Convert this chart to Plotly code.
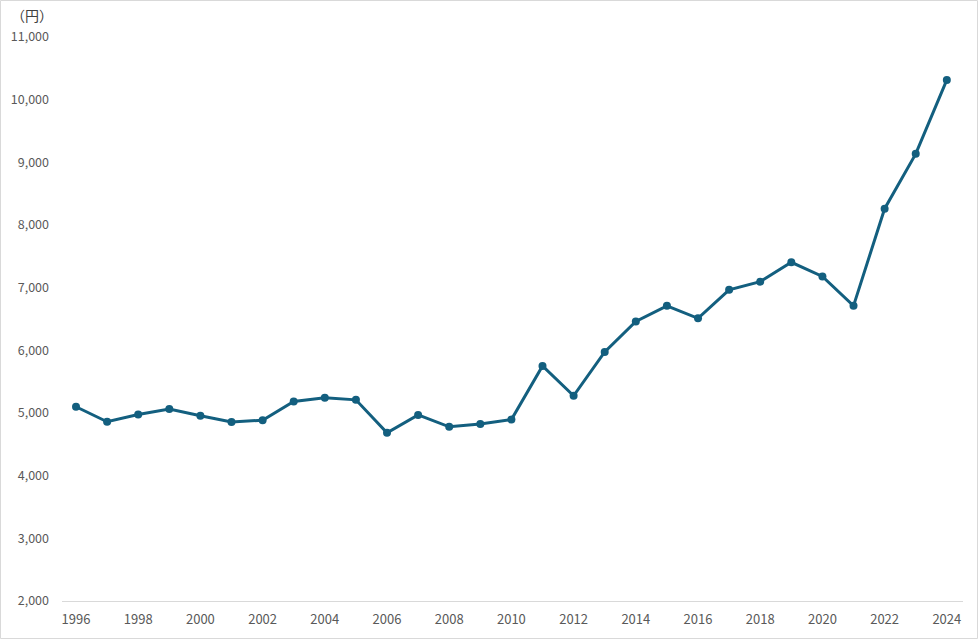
import plotly.graph_objects as go

years = list(range(1996, 2025))
values = [5100, 4860, 4975, 5065, 4955, 4855, 4885, 5185, 5245, 5210,
          4685, 4970, 4780, 4825, 4895, 5750, 5275, 5975, 6460, 6710,
          6510, 6965, 7095, 7405, 7180, 6710, 8260, 9135, 10315]
x_ticks = list(range(1996, 2025, 2))
y_ticks = list(range(2000, 11001, 1000))

W, H = 978, 639
L, R, T, B = 62, 15, 37, 38
pw, ph = W - L - R, H - T - B

fig = go.Figure(go.Scatter(
    x=years, y=values, mode="lines+markers",
    line=dict(color="#135f7f", width=3),
    marker=dict(color="#135f7f", size=8),
    hoverinfo="x+y",
))

fig.update_layout(
    width=W, height=H,
    margin=dict(l=L, r=R, t=T, b=B),
    paper_bgcolor="white", plot_bgcolor="white",
    showlegend=False,
    font=dict(family="Noto Sans CJK JP, sans-serif", size=12, color="#595959"),
    xaxis=dict(range=[1995.55, 2024.52], tickvals=x_ticks,
               ticktext=[str(v) for v in x_ticks],
               showgrid=False, zeroline=False, showline=True,
               linecolor="#d9d9d9", linewidth=1, ticks="",
               ticklabelstandoff=6, tickfont=dict(size=13)),
    yaxis=dict(range=[2000, 11000], tickvals=y_ticks,
               ticktext=[f"{v:,}" for v in y_ticks],
               showgrid=False, zeroline=False, showline=False, ticks="",
               ticklabelstandoff=12, tickfont=dict(size=12.5)),
    shapes=[
        dict(type="rect", xref="paper", yref="paper",
             x0=(0.5 - L) / pw, x1=(W - 0.5 - L) / pw,
             y0=-(B - 0.5) / ph, y1=1 + (T - 0.5) / ph,
             line=dict(color="#d9d9d9", width=1)),
    ],
    annotations=[
        dict(text="（円）", xref="paper", yref="paper",
             x=(9 - L) / pw, y=1 + (T - 15) / ph, xanchor="left", yanchor="middle",
             showarrow=False,
             font=dict(family="Noto Sans CJK JP", size=14, color="#404040")),
    ],
)

fig.write_html("out.html", config={"displayModeBar": False},
               post_script="document.body.style.margin='0';document.body.style.overflow='hidden';")
